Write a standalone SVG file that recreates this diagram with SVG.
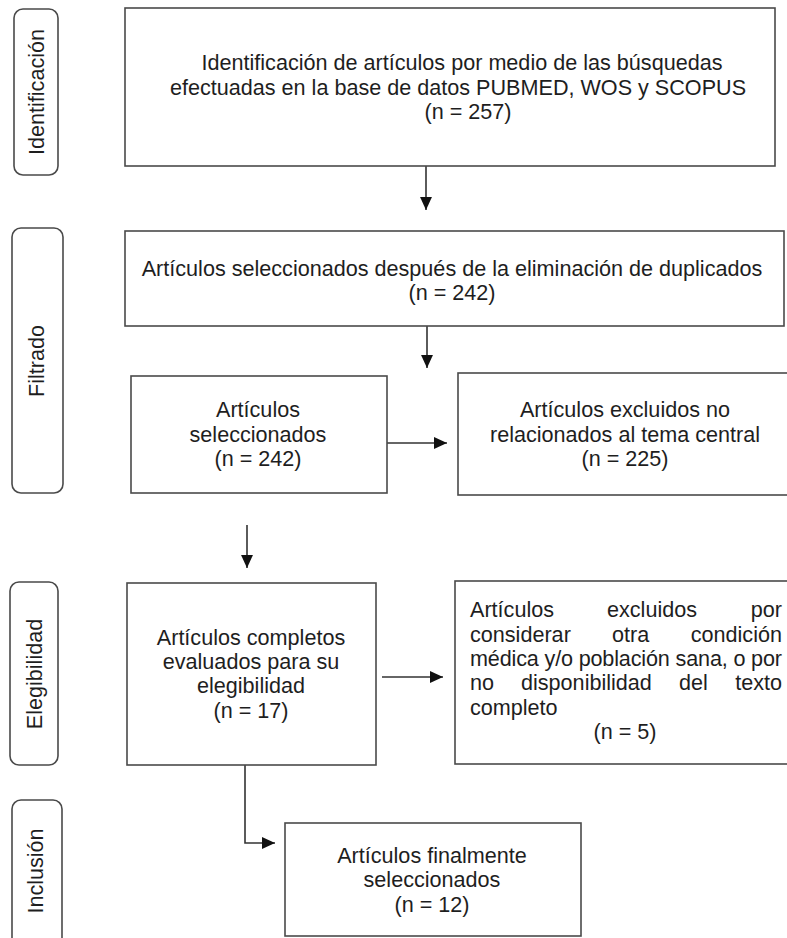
<svg xmlns="http://www.w3.org/2000/svg" width="787" height="938" viewBox="0 0 787 938">
<style>
.box{fill:#fff;stroke:#4a4a4a;stroke-width:1.6}
.pill{fill:#fff;stroke:#4a4a4a;stroke-width:1.6}
.t{font-family:"Liberation Sans",Arial,sans-serif;font-size:21.6px;fill:#1e1e1e}
.c{text-anchor:middle}
.e{text-anchor:end}
.conn{fill:none;stroke:#333;stroke-width:1.6}
</style>
<defs>
<marker id="ah" markerUnits="userSpaceOnUse" markerWidth="13" markerHeight="13" viewBox="0 0 12 12" refX="12" refY="6" orient="auto">
<path d="M0,0.5 L12,6 L0,11.5 Z" fill="#111"/>
</marker>
</defs>
<rect width="787" height="938" fill="#fff"/>

<g id="phase-identificacion">
<rect class="pill" x="14" y="9" width="44" height="166" rx="9"/>
<text class="t c" transform="translate(44,92) rotate(-90)">Identificación</text>
</g>
<g id="phase-filtrado">
<rect class="pill" x="12" y="228" width="51" height="265" rx="9"/>
<text class="t c" transform="translate(44,361) rotate(-90)">Filtrado</text>
</g>
<g id="phase-elegibilidad">
<rect class="pill" x="10" y="582" width="48" height="183" rx="9"/>
<text class="t c" transform="translate(42,674) rotate(-90)">Elegibilidad</text>
</g>
<g id="phase-inclusion">
<rect class="pill" x="12" y="800" width="50" height="150" rx="9"/>
<text class="t c" transform="translate(43,871) rotate(-90)">Inclusión</text>
</g>

<g id="connectors">
<line class="conn" x1="426" y1="166" x2="426" y2="210" marker-end="url(#ah)"/>
<line class="conn" x1="427" y1="326" x2="427" y2="368" marker-end="url(#ah)"/>
<line class="conn" x1="387" y1="443" x2="447" y2="443" marker-end="url(#ah)"/>
<line class="conn" x1="247" y1="525" x2="247" y2="568" marker-end="url(#ah)"/>
<line class="conn" x1="382" y1="677" x2="443" y2="677" marker-end="url(#ah)"/>
<path class="conn" d="M245,765 L245,843 L275,843" marker-end="url(#ah)"/>
</g>

<g id="n1">
<rect class="box" x="125" y="8" width="650" height="158"/>
<text class="t c" x="462" y="70">Identificación de artículos por medio de las búsquedas</text>
<text class="t c" x="458" y="95">efectuadas en la base de datos PUBMED, WOS y SCOPUS</text>
<text class="t c" x="468" y="119">(n = 257)</text>
</g>
<g id="n2">
<rect class="box" x="125" y="231" width="659" height="95"/>
<text class="t c" x="452" y="276">Artículos seleccionados después de la eliminación de duplicados</text>
<text class="t c" x="452" y="300">(n = 242)</text>
</g>
<g id="n3">
<rect class="box" x="131" y="376" width="256" height="117"/>
<text class="t c" x="258" y="417">Artículos</text>
<text class="t c" x="258" y="442">seleccionados</text>
<text class="t c" x="258" y="466">(n = 242)</text>
</g>
<g id="n4">
<rect class="box" x="458" y="373" width="335" height="122"/>
<text class="t c" x="625" y="417">Artículos excluidos no</text>
<text class="t c" x="625" y="442">relacionados al tema central</text>
<text class="t c" x="625" y="466">(n = 225)</text>
</g>
<g id="n5">
<rect class="box" x="127" y="583" width="249" height="182"/>
<text class="t c" x="251" y="645">Artículos completos</text>
<text class="t c" x="251" y="669">evaluados para su</text>
<text class="t c" x="251" y="693">elegibilidad</text>
<text class="t c" x="251" y="718">(n = 17)</text>
</g>
<g id="n6">
<rect class="box" x="455" y="581" width="340" height="183"/>
<text class="t" y="617"><tspan x="470">Artículos</tspan><tspan x="607">excluidos</tspan><tspan x="782" text-anchor="end">por</tspan></text>
<text class="t" y="642"><tspan x="470">considerar</tspan><tspan x="612">otra</tspan><tspan x="782" text-anchor="end">condición</tspan></text>
<text class="t" x="470" y="666" textLength="312" lengthAdjust="spacing">médica y/o población sana, o por</text>
<text class="t" y="690"><tspan x="470">no</tspan><tspan x="521">disponibilidad</tspan><tspan x="679">del</tspan><tspan x="782" text-anchor="end">texto</tspan></text>
<text class="t" x="470" y="715">completo</text>
<text class="t c" x="625" y="739">(n = 5)</text>
</g>
<g id="n7">
<rect class="box" x="285" y="823" width="296" height="113"/>
<text class="t c" x="432" y="863">Artículos finalmente</text>
<text class="t c" x="432" y="887">seleccionados</text>
<text class="t c" x="432" y="912">(n = 12)</text>
</g>
</svg>
